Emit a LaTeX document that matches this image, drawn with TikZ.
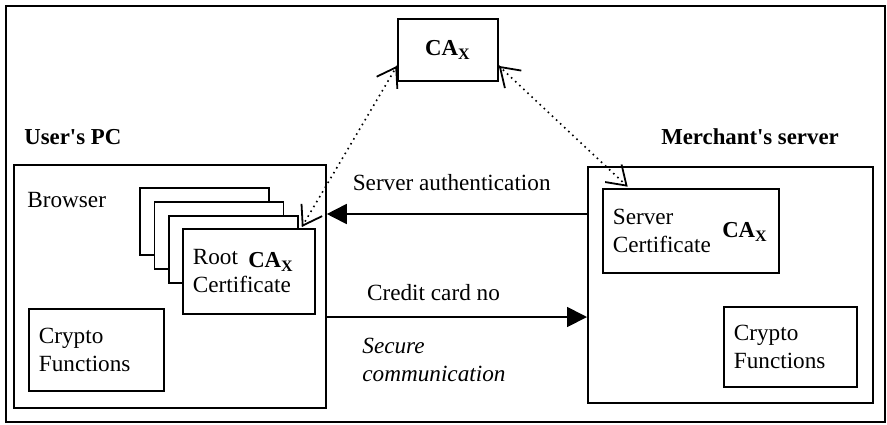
\documentclass[tikz,border=0pt]{standalone}
\usepackage{fontspec}
\setmainfont{Liberation Serif}
\usetikzlibrary{arrows.meta,positioning,calc,decorations.markings}
\newcommand\diagfont{\fontsize{11.6pt}{14pt}\selectfont}
\newcommand\headfont{\fontsize{11.4pt}{14pt}\selectfont\bfseries}

\begin{document}
\begin{tikzpicture}[
  x=0.5pt, y=-0.5pt,
  font=\diagfont,
  box/.style={draw, line width=0.9pt, fill=white, inner sep=0pt, anchor=north west},
  txtbox/.style={box, align=left, inner xsep=5pt},
  lbl/.style={inner sep=0pt},
  bold/.style={lbl, font=\headfont},
  arrow/.style={-{Triangle[length=10pt,width=10pt]}, line width=0.9pt},
  barb/.tip={Straight Barb[length=9pt,width=12pt,line width=0.9pt]},
  dotarrow/.style={dotted, line width=0.8pt,
    postaction={decorate, solid, decoration={markings,
      mark=at position 0 with {\arrowreversed{barb}},
      mark=at position 1 with {\arrow{barb}}}}}
]
\useasboundingbox (0,0) rectangle (887,424);
\node[box, minimum width=439.5pt, minimum height=208pt] (frame) at (5,5) {};

% certificate authority
\node[box, minimum width=50pt, minimum height=31pt, font=\headfont] (ca) at (397,18) {CA\textsubscript{X}};

% user side
\node[bold, anchor=west] (pclabel) at (24,137) {User\textquotesingle s PC};
\node[box, minimum width=156pt, minimum height=121.5pt] (userpc) at (13,164) {};
\node[lbl, anchor=west] (browser) at (27,200) {Browser};
\foreach \i in {0,1,2}
  \node[box, minimum width=64.5pt, minimum height=33.5pt] (card\i) at (139+14.5*\i, 187+14*\i) {};
\node[txtbox, minimum width=66pt, minimum height=42.5pt, text width=56pt] (rootcert) at (182,228) {Root\\Certificate};
\node[bold] (rootca) at (271,262) {CA\textsubscript{X}};
\node[txtbox, minimum width=67.5pt, minimum height=41pt, text width=57.5pt] (cryptoL) at (28,308) {Crypto\\Functions};

% merchant side
\node[bold] (mlabel) at (750,137) {Merchant\textquotesingle s server};
\node[box, minimum width=142.5pt, minimum height=118pt] (merchant) at (587,166) {};
\node[txtbox, minimum width=88pt, minimum height=42pt, text width=78pt] (servcert) at (602,188) {Server\\Certificate};
\node[bold] (servca) at (745,232) {CA\textsubscript{X}};
\node[txtbox, minimum width=66.5pt, minimum height=40pt, text width=56.5pt] (cryptoR) at (723,306) {Crypto\\Functions};

% messages
\coordinate (authrow) at (0,214);
\coordinate (cardrow) at (0,317);
\draw[arrow] (merchant.west |- authrow) -- node[pos=0.52, above=11pt, lbl] (authlbl) {Server authentication} (userpc.east |- authrow);
\draw[arrow] (userpc.east |- cardrow) -- node[pos=0.41, above=7.5pt, lbl] (cardlbl) {Credit card no} (merchant.west |- cardrow);
\node[lbl, align=left, anchor=north west, font=\diagfont\itshape] (secure) at (362,338) {Secure\\communication};

\draw[dotarrow] ($(ca.west)+(0,16)$) -- ($(rootcert.north east)+(-14,-1)$);
\draw[dotarrow] ($(ca.east)+(0,16)$) -- ($(servcert.north west)+(26,-1)$);
\end{tikzpicture}
\end{document}
